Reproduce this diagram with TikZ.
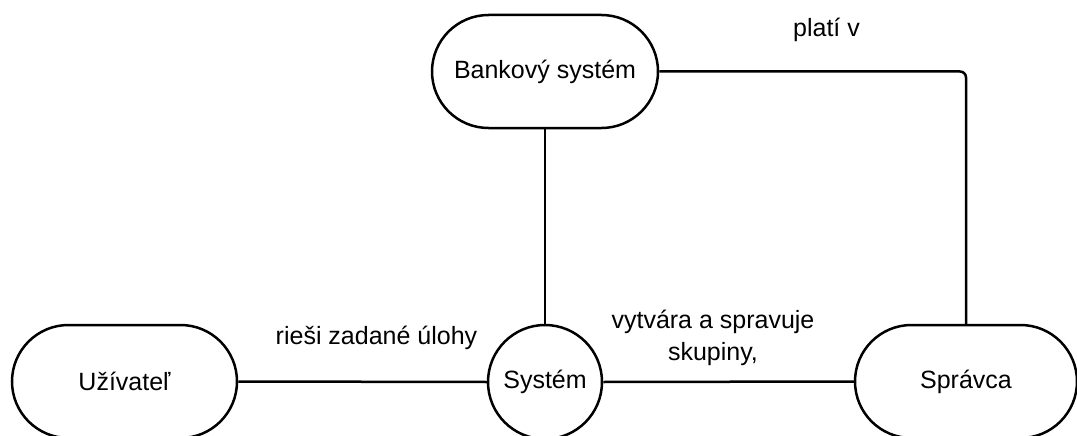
\documentclass[tikz,border=0pt]{standalone}
\usepackage{fontspec}
\setmainfont{Liberation Sans}
\usetikzlibrary{shapes.misc}
\begin{document}
\begin{tikzpicture}[x=1pt,y=-1pt,
  every node/.style={font=\fontsize{25}{32}\selectfont},
  entity/.style={draw,line width=2.5pt,rounded rectangle,minimum height=113pt,inner sep=0pt},
  hub/.style={draw,line width=2.5pt,circle,minimum size=114pt,inner sep=0pt},
  link/.style={line width=2.5pt},
  lbl/.style={anchor=base,align=center,inner sep=0pt}]
\useasboundingbox (0,0) rectangle (1077,436);
\fill[white] (0,0) rectangle (1077,436);

\node[entity,minimum width=226pt] (bank) at (545,71.5) {Bankový systém};
\node[entity,minimum width=225pt] (user) at (124.5,381.5) {Užívateľ};
\node[hub] (sys) at (545,382) {Systém};
\node[entity,minimum width=222pt] (admin) at (966,381.5) {Správca};

\draw[link] (bank.south) -- (sys.north);
\draw[link] (user.east) -- (sys.west);
\draw[link] (sys.east) -- (admin.west);
\draw[link,rounded corners=6pt] (bank.east) -| (admin.north);

\node[lbl] (l1) at (826.5,37) {platí v};
\node[lbl] (l2) at (376.5,344) {rieši zadané úlohy};
\node[lbl] (l3) at (713,328) {vytvára a spravuje};
\node[lbl] (l4) at (713,360) {skupiny,};
\end{tikzpicture}
\end{document}
